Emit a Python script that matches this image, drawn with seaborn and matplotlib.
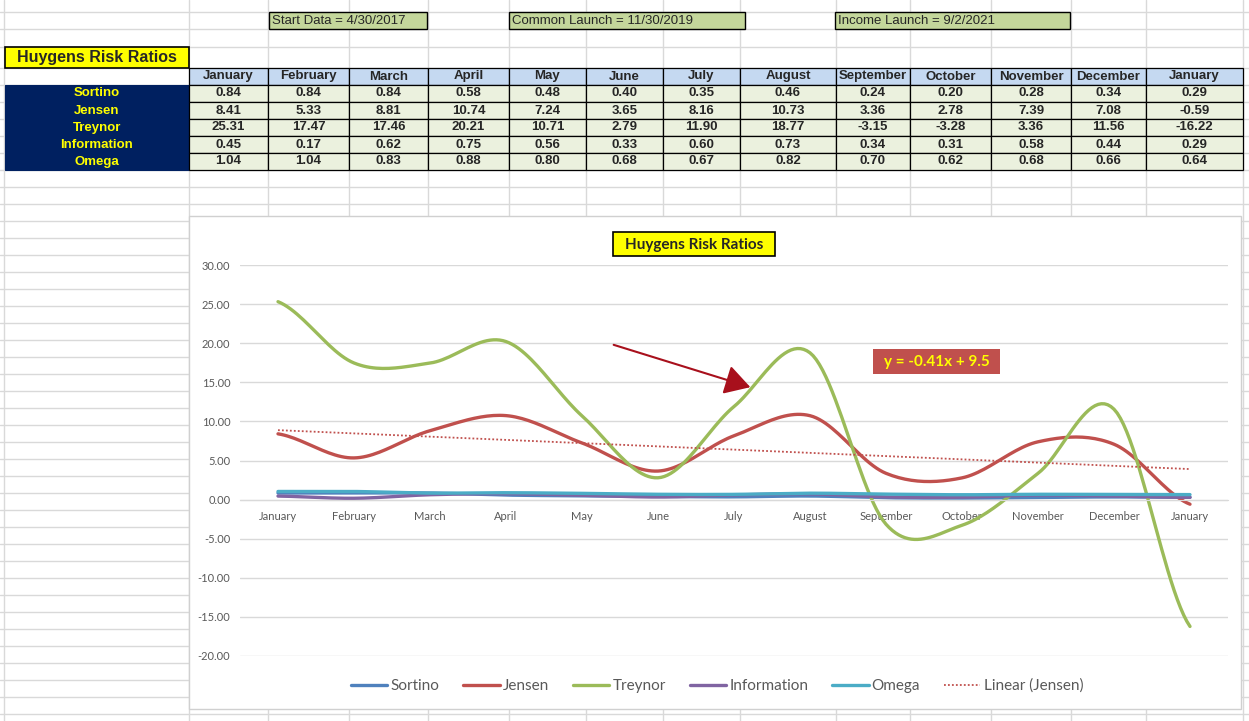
import numpy as np
import matplotlib.pyplot as plt
import seaborn as sns
from matplotlib.patches import Rectangle, FancyArrowPatch

# ---- data ----
months = ["January", "February", "March", "April", "May", "June", "July",
          "August", "September", "October", "November", "December", "January"]
ratio_names = ["Sortino", "Jensen", "Treynor", "Information", "Omega"]
sortino = [0.84, 0.84, 0.84, 0.58, 0.48, 0.40, 0.35, 0.46, 0.24, 0.20, 0.28, 0.34, 0.29]
jensen = [8.41, 5.33, 8.81, 10.74, 7.24, 3.65, 8.16, 10.73, 3.36, 2.78, 7.39, 7.08, -0.59]
treynor = [25.31, 17.47, 17.46, 20.21, 10.71, 2.79, 11.90, 18.77, -3.15, -3.28, 3.36, 11.56, -16.22]
information = [0.45, 0.17, 0.62, 0.75, 0.56, 0.33, 0.60, 0.73, 0.34, 0.31, 0.58, 0.44, 0.29]
omega = [1.04, 1.04, 0.83, 0.88, 0.80, 0.68, 0.67, 0.82, 0.70, 0.62, 0.68, 0.66, 0.64]
launch_notes = ["Start Data = 4/30/2017", "Common Launch = 11/30/2019", "Income Launch = 9/2/2021"]
sheet_title = "Huygens Risk Ratios"
trend_label = "y = -0.41x + 9.5"

series = [sortino, jensen, treynor, information, omega]
colors = ["#4F81BD", "#C0504D", "#9BBB59", "#8064A2", "#4BACC6"]


def smooth(vals, n=24):
    # Excel-style smoothed line (Catmull-Rom through every point)
    p = np.asarray(vals, float)
    ext = np.concatenate([[p[0]], p, [p[-1]]])
    xs, ys = [], []
    for i in range(len(p) - 1):
        p0, p1 = ext[i + 1], ext[i + 2]
        m0 = (ext[i + 2] - ext[i]) / 2
        m1 = (ext[i + 3] - ext[i + 1]) / 2
        t = np.linspace(0, 1, n, endpoint=False)
        h00 = 2 * t**3 - 3 * t**2 + 1
        h10 = t**3 - 2 * t**2 + t
        h01 = -2 * t**3 + 3 * t**2
        h11 = t**3 - t**2
        xs.extend(i + t)
        ys.extend(h00 * p0 + h10 * m0 + h01 * p1 + h11 * m1)
    xs.append(len(p) - 1)
    ys.append(p[-1])
    return np.array(xs), np.array(ys)


sns.set_style("white")
plt.rcParams["axes.unicode_minus"] = False
narrow = ["Liberation Sans Narrow", "Liberation Sans", "DejaVu Sans"]
chartfont = ["Lato", "DejaVu Sans"]
plt.rcParams["font.family"] = chartfont

W, H = 1249, 721
fig = plt.figure(figsize=(W / 100, H / 100), dpi=100)

# ---- spreadsheet background ----
bg = fig.add_axes([0, 0, 1, 1], zorder=0)
bg.set_xlim(0, W)
bg.set_ylim(H, 0)
bg.axis("off")
grid_c = "#D9D9D9"
col_edges = [4, 189, 268, 349, 428, 509, 586, 663, 740, 836, 910, 991, 1071, 1146, 1243]
rows = [12, 29, 47, 68] + list(range(85, H, 17))
for x in col_edges:
    bg.plot([x, x], [0, H], color=grid_c, lw=1, zorder=0.5)
for y in rows:
    bg.plot([0, W], [y, y], color=grid_c, lw=1, zorder=0.5)

# note boxes
note_boxes = [(269, 427), (509, 745), (835, 1070)]
for (x0, x1), txt in zip(note_boxes, launch_notes):
    bg.add_patch(Rectangle((x0, 12), x1 - x0, 17, fc="#C4D79B", ec="black", lw=1, zorder=1))
    bg.text(x0 + 3, 21, txt, ha="left", va="center", fontsize=9.5, family=narrow, zorder=3)

# table title
bg.add_patch(Rectangle((5, 47), 184, 21, fc="#FFFF00", ec="black", lw=1.2, zorder=1))
bg.text(97, 57.5, sheet_title, ha="center", va="center", fontsize=11.5,
        fontweight="bold", family=narrow, zorder=3)

# header row
for i, m in enumerate(months):
    x0, x1 = col_edges[i + 1], col_edges[i + 2]
    bg.add_patch(Rectangle((x0, 68), x1 - x0, 17, fc="#C5D9F1", ec="black", lw=0.9, zorder=1))
    bg.text((x0 + x1) / 2, 76.5, m, ha="center", va="center", fontsize=9.5,
            fontweight="bold", family=narrow, zorder=3)

# label block + values
bg.add_patch(Rectangle((5, 85), 184, 85, fc="#002060", ec="#002060", lw=0.8, zorder=1))
for r, (name, vals) in enumerate(zip(ratio_names, series)):
    yc = 85 + 17 * r + 8.5
    bg.text(97, yc, name, ha="center", va="center", fontsize=9.5,
            fontweight="bold", color="#FFFF00", family=narrow, zorder=3)
    for i, v in enumerate(vals):
        x0, x1 = col_edges[i + 1], col_edges[i + 2]
        bg.add_patch(Rectangle((x0, 85 + 17 * r), x1 - x0, 17, fc="#EBF1DE",
                               ec="black", lw=0.9, zorder=1))
        bg.text((x0 + x1) / 2, yc, f"{v:.2f}", ha="center", va="center",
                fontsize=9.5, fontweight="bold", family=narrow, zorder=3)

# chart area
bg.add_patch(Rectangle((189, 216), 1052, 493, fc="white", ec="#D0D0D0", lw=1, zorder=5))

# ---- the chart ----
ax = fig.add_axes([240 / W, 1 - 656 / H, 988 / W, 391 / H], zorder=1)
ax.patch.set_alpha(0)
for name, vals, c in zip(ratio_names, series, colors):
    xs, ys = smooth(vals)
    sns.lineplot(x=xs, y=ys, color=c, lw=2.4, label=name, sort=False,
                 estimator=None, ax=ax)

xi = np.arange(1, len(jensen) + 1)
slope, icpt = np.polyfit(xi, jensen, 1)
sns.lineplot(x=xi - 1, y=slope * xi + icpt, color="#C0504D", lw=1.3,
             linestyle=(0, (1, 1.2)), label="Linear (Jensen)", ax=ax)

ax.set_xlim(-0.5, len(months) - 0.5)
ax.set_ylim(-20, 30)
ax.set_yticks(np.arange(-20, 31, 5))
ax.set_yticklabels([f"{v:.2f}" for v in np.arange(-20, 31, 5)])
ax.set_xticks(range(len(months)))
ax.set_xticklabels(months)
ax.yaxis.grid(True, color=grid_c, lw=1)
ax.xaxis.grid(False)
for s in ["top", "left", "right"]:
    ax.spines[s].set_visible(False)
ax.spines["bottom"].set_position(("data", 0))
ax.spines["bottom"].set_color(grid_c)
ax.tick_params(axis="y", length=0, pad=7, labelsize=8, labelcolor="#595959")
ax.tick_params(axis="x", length=0, pad=8.5, labelsize=8, labelcolor="#595959")
ax.set_xlabel("")
ax.set_ylabel("")

ax.legend(loc="center", bbox_to_anchor=(717 / W, 1 - 686 / H),
          bbox_transform=fig.transFigure, ncol=6, frameon=False,
          fontsize=11, handlelength=2.4, handletextpad=0.2, columnspacing=1.55,
          labelcolor="#595959")

# ---- overlays: chart title, arrow, trend equation ----
top = fig.add_axes([0, 0, 1, 1], zorder=2)
top.set_xlim(0, W)
top.set_ylim(H, 0)
top.axis("off")
top.patch.set_alpha(0)
top.add_patch(Rectangle((613, 232), 162, 24, fc="#FFFF00", ec="black", lw=1.2))
top.text(694, 244.5, sheet_title, ha="center", va="center", fontsize=11,
         fontweight="bold", family=chartfont)
top.add_patch(FancyArrowPatch((611, 344), (753, 388), arrowstyle="-|>,head_length=0.6,head_width=0.35",
                              mutation_scale=26, color="#A8101C", lw=1.5))
top.add_patch(Rectangle((873, 349), 127, 25, fc="#C0504D", ec="none"))
top.text(936.5, 362, trend_label, ha="center", va="center", fontsize=11,
         fontweight="bold", color="#FFFF00", family=chartfont)

fig.savefig("out.png", dpi=100)
